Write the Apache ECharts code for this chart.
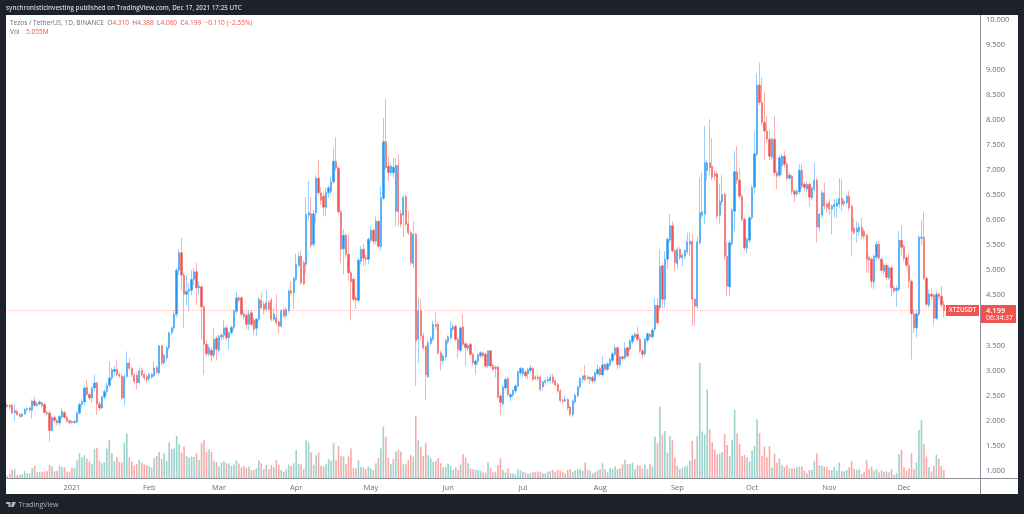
<!DOCTYPE html>
<html>
<head>
<meta charset="utf-8">
<title>XTZUSDT</title>
<script src="https://cdn.jsdelivr.net/npm/echarts@6/dist/echarts.min.js"></script>
<style>
  html, body { margin: 0; padding: 0; background: #1e222d; }
  #chart { width: 1024px; height: 514px; }
</style>
</head>
<body>
<div id="chart"></div>
<script>
// daily candles, 6 Dec 2020 to 17 Dec 2021
var opens = [
  2.31,2.30,2.30,2.15,2.18,2.12,2.08,2.13,2.22,2.21,
  2.20,2.39,2.30,2.33,2.35,2.32,2.16,2.15,1.80,2.06,
  2.00,1.95,2.07,2.16,2.06,1.99,1.98,1.96,1.97,2.15,
  2.32,2.37,2.66,2.52,2.45,2.65,2.75,2.33,2.25,2.47,
  2.58,2.70,2.85,2.98,3.02,2.92,2.89,2.45,2.88,3.15,
  3.04,2.91,2.90,2.76,3.00,2.92,2.88,2.84,2.87,2.90,
  3.06,2.95,3.49,3.15,3.25,3.45,3.75,3.85,4.12,5.00,
  5.35,4.90,4.52,4.58,4.60,4.82,4.97,4.65,4.67,4.27,
  3.52,3.33,3.40,3.30,3.64,3.40,3.67,3.70,3.85,3.65,
  3.75,3.86,4.18,4.45,4.45,4.13,4.10,3.92,4.15,4.00,
  3.84,4.02,4.40,4.32,4.22,4.35,4.40,4.02,4.05,3.97,
  3.88,4.20,4.09,4.19,4.59,4.55,4.82,5.10,5.28,5.15,
  5.12,6.10,6.13,5.52,6.15,6.84,6.55,6.48,6.26,6.55,
  6.58,6.77,7.18,7.04,6.17,5.43,5.70,5.32,4.95,4.82,
  4.45,4.40,5.18,5.42,5.25,5.22,5.60,5.80,5.58,5.98,
  5.47,6.44,7.57,7.08,6.95,6.95,6.18,7.10,6.13,6.10,
  6.47,5.93,5.75,5.13,5.72,3.62,4.19,3.69,3.48,2.87,
  3.54,3.62,3.92,3.92,3.35,3.19,3.27,3.57,3.65,3.82,
  3.88,3.62,3.40,3.87,3.53,3.44,3.52,3.32,3.12,3.18,
  3.29,3.35,3.32,3.09,3.39,3.10,3.06,3.07,2.49,2.33,
  2.65,2.84,2.47,2.51,2.59,2.69,2.95,2.93,2.97,2.93,
  3.00,3.04,2.87,2.87,2.87,2.67,2.76,2.79,2.79,2.87,
  2.79,2.72,2.59,2.41,2.39,2.42,2.27,2.12,2.37,2.49,
  2.67,2.82,2.90,2.87,2.82,2.86,2.79,2.93,3.04,2.91,
  3.12,3.02,3.11,3.20,3.32,3.45,3.11,3.27,3.25,3.45,
  3.42,3.57,3.67,3.72,3.62,3.39,3.33,3.60,3.72,3.67,
  3.82,4.30,4.25,5.09,4.42,5.22,5.60,5.89,5.39,5.13,
  5.42,5.25,5.28,5.37,5.52,5.58,4.42,4.28,5.55,6.10,
  6.12,6.99,7.15,7.08,6.93,6.93,6.10,6.37,6.52,5.28,
  4.67,5.53,6.18,6.97,6.80,6.48,6.02,5.44,5.60,6.05,
  6.66,7.32,8.70,8.35,7.95,7.78,7.62,7.26,7.62,6.95,
  6.90,7.08,7.28,7.12,6.84,6.88,6.58,6.53,6.57,7.00,
  6.72,6.62,6.72,6.45,6.62,6.80,5.85,6.10,6.55,6.32,
  6.35,6.22,6.27,6.28,6.32,6.44,6.33,6.35,6.48,6.28,
  5.84,5.77,5.78,5.86,5.78,5.70,5.25,5.22,4.77,5.26,
  5.52,5.22,4.98,5.10,4.85,5.05,4.65,4.60,4.62,5.60,
  5.48,5.25,5.10,4.78,4.13,3.85,4.12,5.64,5.66,4.84,
  4.30,4.52,4.50,4.04,4.52,4.48,4.31
];
var closes = [
  2.28,2.27,2.15,2.20,2.12,2.08,2.13,2.22,2.24,2.25,
  2.39,2.30,2.33,2.37,2.30,2.16,2.14,1.80,2.06,2.00,
  1.95,2.08,2.18,2.06,1.99,1.96,1.96,1.98,2.15,2.32,
  2.38,2.65,2.52,2.45,2.65,2.75,2.33,2.25,2.47,2.58,
  2.70,2.85,3.01,3.02,2.92,2.89,2.45,2.88,3.15,3.04,
  2.91,2.78,2.75,2.99,2.91,2.85,2.81,2.92,2.92,3.05,
  2.96,3.49,3.15,3.30,3.45,3.75,3.85,4.12,5.00,5.35,
  4.90,4.52,4.58,4.62,4.82,4.97,4.65,4.68,4.27,3.52,
  3.33,3.45,3.30,3.62,3.42,3.67,3.70,3.85,3.65,3.75,
  3.86,4.19,4.45,4.40,4.12,4.08,3.92,4.12,3.92,3.82,
  4.02,4.42,4.25,4.22,4.35,4.22,4.02,4.13,3.95,3.88,
  4.19,4.09,4.22,4.59,4.55,4.84,5.12,5.28,4.75,4.73,
  6.12,6.15,5.50,6.13,6.84,6.55,6.40,6.26,6.55,6.65,
  6.77,7.18,7.04,6.17,5.42,5.70,5.32,4.95,4.77,4.42,
  4.40,5.20,5.42,5.24,5.22,5.62,5.80,5.58,5.98,5.48,
  6.45,7.57,7.05,6.95,7.08,7.06,7.10,6.17,5.92,6.46,
  5.92,5.75,5.15,5.72,3.59,4.19,3.69,3.45,2.91,3.55,
  3.64,3.92,3.88,3.35,3.20,3.29,3.59,3.67,3.84,3.87,
  3.62,3.42,3.85,3.52,3.45,3.50,3.32,3.15,3.19,3.31,
  3.35,3.29,3.09,3.39,3.09,3.02,3.04,2.47,2.36,2.67,
  2.82,2.52,2.52,2.60,2.69,2.97,3.04,3.04,2.89,3.02,
  3.05,2.82,2.84,2.84,2.62,2.77,2.80,2.82,2.86,2.77,
  2.71,2.59,2.40,2.39,2.42,2.25,2.12,2.39,2.51,2.67,
  2.84,2.89,2.82,2.84,2.86,2.79,2.95,3.02,2.92,3.11,
  3.02,3.13,3.22,3.33,3.45,3.12,3.27,3.24,3.44,3.29,
  3.59,3.69,3.72,3.62,3.39,3.32,3.62,3.73,3.67,3.80,
  4.30,3.95,5.08,4.42,5.22,5.62,5.89,5.39,5.15,5.42,
  5.25,5.30,5.39,5.57,5.58,4.42,4.28,5.57,6.15,6.17,
  7.15,7.15,7.05,6.86,6.88,6.08,6.38,6.52,5.28,4.68,
  5.55,6.20,6.97,6.80,6.48,6.02,5.45,5.62,6.05,6.66,
  7.33,8.70,8.35,7.95,7.78,7.62,7.28,7.62,6.95,6.88,
  7.25,7.28,7.12,6.84,6.90,6.58,6.52,6.58,7.00,6.68,
  6.65,6.72,6.46,6.64,6.80,5.87,6.12,6.55,6.28,6.26,
  6.22,6.28,6.32,6.35,6.44,6.32,6.38,6.48,6.25,5.78,
  5.75,5.84,5.86,5.68,5.68,5.22,5.20,4.78,5.28,5.52,
  5.24,5.00,5.10,4.86,5.05,4.65,4.58,4.64,5.60,5.46,
  5.24,5.10,4.78,4.13,3.85,4.13,5.66,5.66,4.84,4.32,
  4.52,4.48,4.04,4.52,4.48,4.31,4.199
];
var lows = [
  2.25,2.22,2.12,1.99,2.09,2.05,2.06,2.11,2.18,2.17,
  2.04,2.27,2.28,2.30,2.26,2.14,2.10,1.57,1.78,1.95,
  1.90,1.90,2.02,2.03,1.96,1.93,1.93,1.93,1.94,2.12,
  2.26,2.30,2.49,2.40,2.35,2.58,2.11,2.20,2.22,2.42,
  2.50,2.65,2.80,2.90,2.88,2.85,2.40,2.30,2.85,3.00,
  2.87,2.72,2.62,2.72,2.87,2.80,2.76,2.78,2.83,2.86,
  2.92,2.90,3.10,3.10,3.18,3.40,3.70,3.80,4.05,4.90,
  4.60,3.85,4.30,4.18,4.50,4.70,4.30,4.50,3.62,2.91,
  3.28,3.28,3.17,3.25,3.20,3.35,3.60,3.62,3.60,3.42,
  3.72,3.80,4.12,4.36,4.08,4.02,3.82,3.80,3.88,3.72,
  3.69,3.98,4.22,4.12,4.18,4.18,3.98,3.98,3.90,3.73,
  3.85,4.05,4.05,4.15,4.50,4.22,4.78,5.05,4.70,4.70,
  4.95,6.00,5.45,5.47,5.95,6.50,6.30,6.08,6.08,6.45,
  6.50,6.72,6.98,6.12,5.15,4.92,5.25,4.79,4.00,4.38,
  4.22,4.35,5.12,5.08,5.10,5.12,5.55,5.52,5.52,5.44,
  5.40,6.40,7.00,6.78,6.90,6.85,5.88,5.88,5.85,5.66,
  5.88,5.70,5.10,5.05,2.69,3.15,3.60,3.40,2.42,2.85,
  3.50,3.58,3.82,3.30,3.00,3.12,3.20,3.52,3.60,3.78,
  3.58,3.25,3.36,3.48,3.09,3.38,3.28,3.10,2.92,3.12,
  3.25,3.25,3.05,3.05,3.05,2.98,2.86,2.43,2.12,2.30,
  2.60,2.48,2.39,2.46,2.55,2.65,2.90,2.88,2.85,2.82,
  2.95,2.78,2.80,2.80,2.57,2.60,2.70,2.75,2.74,2.72,
  2.68,2.55,2.36,2.35,2.36,2.20,2.08,2.07,2.33,2.45,
  2.63,2.75,2.78,2.80,2.72,2.74,2.75,2.90,2.88,2.87,
  2.98,2.98,3.07,3.16,3.28,3.02,3.05,3.20,3.21,3.25,
  3.38,3.53,3.62,3.58,3.35,3.24,3.28,3.55,3.62,3.62,
  3.78,3.90,4.20,4.25,4.25,5.02,5.55,5.35,4.98,5.02,
  5.20,5.08,5.22,5.32,5.28,3.89,3.89,4.22,5.50,6.05,
  5.92,6.80,6.90,6.80,6.80,6.02,5.92,6.30,5.20,4.49,
  4.49,5.48,5.78,6.72,6.42,5.98,5.40,5.35,5.55,6.00,
  6.52,7.28,8.30,7.90,7.20,7.55,7.20,7.20,6.88,6.62,
  6.85,6.90,7.05,6.78,6.80,6.50,6.35,6.48,6.52,6.62,
  6.58,6.55,6.28,6.40,6.58,5.55,5.78,6.05,6.22,6.15,
  6.10,5.72,6.05,6.05,6.25,6.18,6.27,6.30,6.18,5.28,
  5.70,5.55,5.70,5.62,5.62,4.95,4.95,4.65,4.62,5.20,
  5.20,4.95,4.92,4.80,4.80,4.48,4.55,4.27,4.58,5.30,
  5.18,5.05,4.65,3.22,3.75,3.65,4.08,5.50,4.80,4.28,
  4.25,4.40,3.91,4.00,4.40,4.25,4.06
];
var highs = [
  2.33,2.33,2.33,2.32,2.22,2.14,2.15,2.25,2.26,2.28,
  2.42,2.47,2.37,2.40,2.38,2.35,2.19,2.20,2.10,2.10,
  2.04,2.11,2.25,2.19,2.09,2.02,2.01,2.02,2.18,2.36,
  2.42,2.68,2.81,2.55,2.68,2.92,2.78,2.38,2.50,2.62,
  2.75,3.18,3.05,3.10,3.22,2.96,2.93,2.92,3.38,3.25,
  3.08,2.95,2.96,3.06,3.05,2.96,2.92,2.96,2.95,3.18,
  3.10,3.51,3.52,3.33,3.50,3.78,3.88,4.20,5.05,5.42,
  5.65,4.95,4.90,4.75,5.00,5.05,5.15,4.78,4.70,4.30,
  3.60,3.50,3.46,3.85,3.68,3.72,3.75,4.00,3.90,3.78,
  3.90,4.22,4.57,4.50,4.48,4.18,4.14,4.20,4.20,4.05,
  4.05,4.46,4.55,4.38,4.60,4.40,4.45,4.25,4.52,4.00,
  4.22,4.24,4.26,4.62,4.79,4.88,5.33,5.36,5.40,5.20,
  6.46,6.78,6.46,6.20,6.90,7.20,6.66,6.55,6.65,6.70,
  6.88,7.46,7.66,7.08,6.20,5.82,5.73,5.73,5.00,4.86,
  4.50,5.25,5.48,5.53,5.30,5.66,5.88,5.84,6.08,6.00,
  6.68,8.04,8.42,7.28,7.13,7.25,7.25,7.32,6.20,6.50,
  6.50,6.18,5.80,5.97,5.75,4.47,4.43,3.75,3.50,3.60,
  3.68,3.99,4.17,3.96,3.40,3.32,3.63,3.70,3.99,3.95,
  3.92,3.66,3.88,4.13,3.56,3.54,3.55,3.35,3.22,3.34,
  3.38,3.38,3.36,3.40,3.41,3.13,3.10,3.10,2.52,2.70,
  2.86,2.87,2.55,2.63,2.72,3.00,3.07,3.06,3.00,3.05,
  3.11,3.07,2.90,2.93,2.90,2.80,2.84,2.87,2.93,2.93,
  2.83,2.75,2.62,2.44,2.49,2.45,2.30,2.42,2.54,2.70,
  2.87,2.92,3.11,2.90,2.88,2.89,2.98,3.12,3.08,3.29,
  3.15,3.17,3.25,3.37,3.52,3.48,3.30,3.30,3.57,3.48,
  3.62,3.72,3.76,3.87,3.65,3.42,3.65,3.76,3.75,3.84,
  4.45,4.45,5.42,5.15,5.38,5.66,6.12,5.98,5.42,5.46,
  5.46,5.34,5.42,5.75,5.75,5.72,4.45,5.68,6.85,6.95,
  7.88,7.20,8.02,7.64,7.00,6.98,6.72,6.90,6.55,5.55,
  5.60,6.25,7.38,7.48,7.05,6.52,6.05,5.66,6.10,6.70,
  7.78,8.93,9.15,8.85,8.57,8.08,7.80,7.66,8.08,7.00,
  7.29,7.32,7.38,7.16,6.95,6.92,6.62,6.62,7.12,7.13,
  6.76,6.78,6.76,6.68,7.15,6.85,6.15,6.60,6.75,6.38,
  6.42,6.32,6.42,6.42,6.84,6.82,6.42,6.52,6.58,6.32,
  6.04,5.98,5.95,6.05,5.82,5.73,5.30,5.26,5.32,5.58,
  5.58,5.26,5.15,5.14,5.10,5.10,4.70,4.70,5.78,5.90,
  5.52,5.30,5.33,4.82,4.22,4.22,5.70,6.00,6.17,4.88,
  4.62,4.65,4.54,4.58,4.56,4.68,4.388
];
var volumes = [
  1.6,2.9,5.0,5.4,2.1,2.1,2.5,4.3,2.9,2.9,
  6.2,7.4,3.5,3.9,3.9,3.9,4.3,8.1,7.0,4.3,
  4.5,7.4,6.8,6.6,3.9,3.9,6.2,6.2,10.5,14.7,
  12.4,13.6,11.6,10.1,8.3,17.1,18.0,10.3,8.9,9.5,
  17.5,22.5,14.7,10.1,12.6,9.7,9.3,21.0,26.2,12.2,
  9.9,7.4,8.3,10.9,9.3,8.3,7.8,7.0,6.4,12.0,
  13.2,15.5,11.6,14.7,10.3,21.0,17.1,17.5,24.8,20.0,
  15.1,18.6,13.2,12.2,12.8,12.6,14.7,10.9,20.6,22.3,
  15.5,17.1,15.5,10.3,9.7,7.0,9.3,9.9,8.9,8.7,
  7.4,8.1,10.7,8.7,6.6,7.4,6.2,7.0,4.9,5.0,
  6.0,10.7,8.9,5.4,7.8,5.4,7.8,6.6,10.7,8.1,
  5.0,3.9,5.4,8.1,7.4,8.9,16.7,8.7,8.3,5.4,
  22.3,21.1,15.1,8.0,13.6,15.1,7.4,7.0,8.3,11.3,
  10.3,20.6,10.7,19.0,13.2,12.8,8.5,12.8,17.5,6.0,
  6.0,10.5,6.8,6.4,5.4,7.0,5.8,4.9,8.9,11.8,
  17.5,30.3,24.4,12.0,8.3,11.3,15.7,16.7,15.7,8.3,
  8.3,10.7,13.6,12.8,36.5,22.3,18.4,13.2,20.6,13.6,
  11.8,9.7,10.3,11.8,8.9,6.4,6.8,8.7,7.4,4.9,
  6.4,5.0,8.1,14.2,12.2,8.9,5.8,5.4,5.0,5.0,
  4.5,3.7,3.5,9.3,6.2,3.5,4.1,7.8,11.8,5.0,
  3.5,5.8,3.1,3.1,2.3,5.4,4.7,3.9,3.5,2.7,
  3.1,3.9,3.9,4.1,3.9,3.1,3.1,3.9,4.5,5.0,
  3.9,5.0,4.5,3.9,3.1,5.0,5.4,3.9,4.7,5.4,
  5.4,4.5,9.3,5.0,4.5,3.1,3.9,4.7,5.4,8.9,
  5.4,3.9,6.0,5.4,7.0,5.4,5.8,8.3,10.9,8.3,
  8.5,9.3,5.4,7.8,7.4,5.8,8.1,5.4,8.3,7.0,
  24.4,20.6,41.9,25.8,27.7,15.1,24.8,22.5,12.2,7.4,
  5.4,6.4,7.0,7.4,10.3,21.9,11.3,24.8,67.3,27.4,
  25.8,52.0,28.7,21.1,16.7,14.0,14.4,15.5,26.0,19.6,
  13.2,22.5,40.0,26.4,20.2,13.2,13.6,12.4,9.9,16.3,
  19.0,34.5,26.4,13.2,18.6,12.4,19.0,6.4,14.4,9.3,
  11.6,7.8,6.6,8.0,5.8,6.0,5.8,6.6,7.0,7.0,
  4.7,3.1,5.0,5.0,10.1,14.7,7.8,7.4,7.0,6.6,
  5.0,5.0,6.6,4.7,9.3,4.3,4.1,5.0,6.6,10.1,
  5.4,5.0,5.4,2.7,3.9,10.5,5.4,7.0,4.7,5.6,
  3.5,4.7,3.9,4.1,3.7,5.4,2.1,3.1,14.2,16.7,
  6.6,4.5,5.8,14.7,5.4,9.3,28.3,34.1,20.2,12.8,
  6.6,4.1,7.4,14.0,11.3,7.2,5.055
];
var priceTicks = { min: 1, max: 10, step: 0.5 };
var monthStarts = [26, 57, 85, 116, 146, 177, 207, 238, 269, 299, 330, 360];
var monthLabels = ['2021', 'Feb', 'Mar', 'Apr', 'May', 'Jun', 'Jul', 'Aug', 'Sep', 'Oct', 'Nov', 'Dec'];
var lastPrice = 4.199;

var UP = '#2196f3', DOWN = '#ef5350';
var UP_WICK = 'rgba(33,150,243,0.9)', DOWN_WICK = 'rgba(239,83,80,0.9)';
var VOL_UP = '#9bd3cd', VOL_DOWN = '#f8aaa8';
var DARK = '#1e222d';
var FONT = '"Open Sans", sans-serif';

// room for a few empty days on the right, like the TradingView screen
var categories = [];
for (var i = 0; i < 391; i++) {
    categories.push(new Date(Date.UTC(2020, 11, 6 + i)).toISOString().slice(0, 10));
}
var candles = [];
var volumeBars = [];
for (var k = 0; k < closes.length; k++) {
    candles.push([opens[k], closes[k], lows[k], highs[k]]);
    volumeBars.push({
        value: volumes[k],
        itemStyle: { color: closes[k] >= opens[k] ? VOL_UP : VOL_DOWN }
    });
}

var myChart = echarts.init(document.getElementById('chart'), null, { renderer: 'canvas' });
var option = {
    animation: false,
    backgroundColor: DARK,
    grid: [
        { left: 6, top: 20, width: 974, height: 450.5, containLabel: false },
        { left: 6, top: 355, width: 974, height: 123.5, containLabel: false }
    ],
    xAxis: [
        { type: 'category', gridIndex: 0, data: categories, boundaryGap: true,
          axisLine: { show: false }, axisTick: { show: false }, axisLabel: { show: false }, splitLine: { show: false } },
        { type: 'category', gridIndex: 1, data: categories, boundaryGap: true,
          axisLine: { show: false }, axisTick: { show: false }, splitLine: { show: false },
          axisLabel: {
              color: '#6a6d78', fontSize: 7.5, fontFamily: FONT, margin: 5,
              interval: function (index) { return monthStarts.indexOf(index) >= 0; },
              formatter: function (value, index) { return monthLabels[monthStarts.indexOf(index)] || ''; }
          } }
    ],
    yAxis: [
        { type: 'value', gridIndex: 0, position: 'right', scale: false,
          min: priceTicks.min, max: priceTicks.max, interval: priceTicks.step,
          axisLine: { show: false }, axisTick: { show: false }, splitLine: { show: false },
          axisLabel: {
              color: '#6a6d78', fontSize: 7.5, fontFamily: FONT, margin: 6,
              showMinLabel: true, showMaxLabel: true,
              formatter: function (v) { return v.toFixed(3); }
          } },
        { type: 'value', gridIndex: 1, min: 0, max: 72, show: false }
    ],
    series: [
        { type: 'bar', name: 'Vol', xAxisIndex: 1, yAxisIndex: 1, data: volumeBars, barWidth: 1.6, z: 2 },
        { type: 'candlestick', name: 'XTZUSDT', xAxisIndex: 0, yAxisIndex: 0, data: candles, barWidth: 1.8, z: 3,
          itemStyle: { color: UP, color0: DOWN, borderColor: UP_WICK, borderColor0: DOWN_WICK, borderWidth: 0.5 },
          markLine: {
              silent: true, symbol: 'none', animation: false, label: { show: false },
              lineStyle: { color: '#ef5350', type: 'dotted', width: 1, opacity: 0.35 },
              data: [{ yAxis: lastPrice }]
          } }
    ],
    graphic: { elements: [
        { type: 'rect', z: -10, silent: true, shape: { x: 6, y: 15, width: 1012, height: 479 }, style: { fill: '#fff' } },
        { type: 'line', z: 10, silent: true, shape: { x1: 980.5, y1: 15, x2: 980.5, y2: 494 }, style: { stroke: '#8d9099', lineWidth: 1 } },
        { type: 'line', z: 10, silent: true, shape: { x1: 6, y1: 478.5, x2: 1018, y2: 478.5 }, style: { stroke: '#8d9099', lineWidth: 1 } },
        { type: 'text', z: 10, silent: true, x: 6, y: 8, style: {
            text: 'synchronisticinvesting published on TradingView.com, Dec 17, 2021 17:25 UTC',
            fill: '#d1d4dc', font: '600 6.3px ' + FONT, textVerticalAlign: 'middle' } },
        { type: 'text', z: 10, silent: true, x: 10, y: 23, style: {
            rich: {
                g: { fill: '#6a6d78', font: '6.5px ' + FONT },
                r: { fill: '#ef5350', font: '6.5px ' + FONT }
            },
            text: '{g|Tezos / TetherUS, 1D, BINANCE  O}{r|4.310}{g|  H}{r|4.388}{g|  L}{r|4.060}{g|  C}{r|4.199  −0.110 (−2.55%)}',
            textVerticalAlign: 'middle' } },
        { type: 'text', z: 10, silent: true, x: 10, y: 32.5, style: {
            rich: {
                g: { fill: '#6a6d78', font: '6.5px ' + FONT },
                r: { fill: '#ef5350', font: '6.5px ' + FONT }
            },
            text: '{g|Vol}  {r|5.055M}', textVerticalAlign: 'middle' } },
        { type: 'rect', z: 10, silent: true, shape: { x: 946, y: 305, width: 33, height: 11 }, style: { fill: '#ef5350' } },
        { type: 'rect', z: 10, silent: true, shape: { x: 981, y: 305, width: 35, height: 18 }, style: { fill: '#ef5350' } },
        { type: 'text', z: 11, silent: true, x: 962.5, y: 310.5, style: {
            text: 'XTZUSDT', fill: '#fff', font: '600 6.3px ' + FONT, textAlign: 'center', textVerticalAlign: 'middle' } },
        { type: 'text', z: 11, silent: true, x: 986, y: 310.5, style: {
            text: '4.199', fill: '#fff', font: '600 7.5px ' + FONT, textVerticalAlign: 'middle' } },
        { type: 'text', z: 11, silent: true, x: 986, y: 318, style: {
            text: '06:34:37', fill: '#fff', font: '6.8px ' + FONT, textVerticalAlign: 'middle' } },
        // TradingView mark in the footer
        { type: 'polygon', z: 10, silent: true, shape: { points: [[6,502],[10.5,502],[10.5,507],[8.5,507],[8.5,504],[6,504]] }, style: { fill: '#b2b5be' } },
        { type: 'polygon', z: 10, silent: true, shape: { points: [[12,502],[16,502],[13.5,507],[11,507]] }, style: { fill: '#b2b5be' } },
        { type: 'text', z: 10, silent: true, x: 18.5, y: 504.5, style: {
            text: 'TradingView', fill: '#b2b5be', font: '7px ' + FONT, textVerticalAlign: 'middle' } }
    ] }
};
myChart.setOption(option);
</script>
</body>
</html>
